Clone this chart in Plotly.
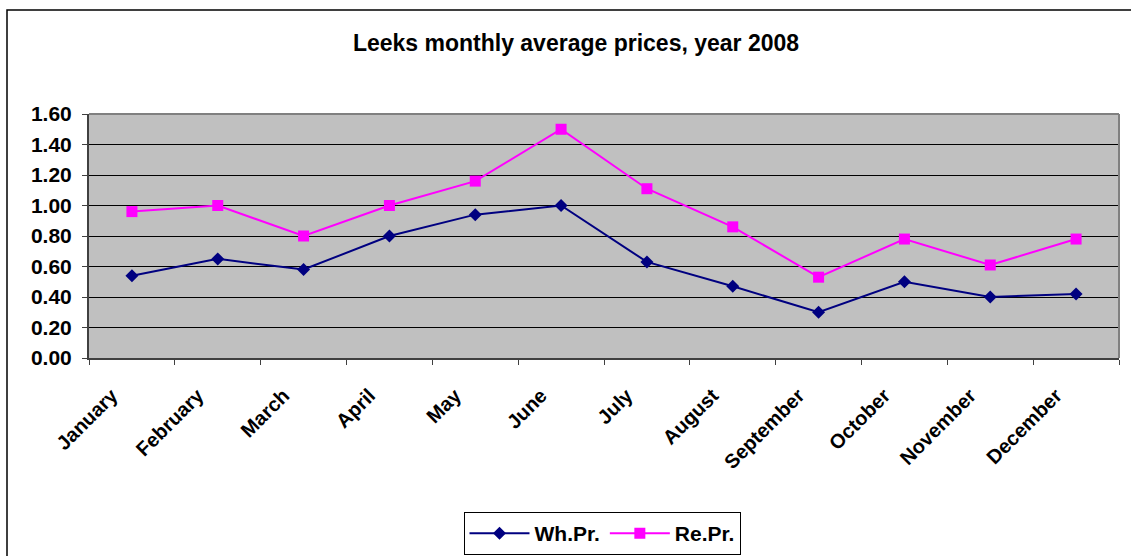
import plotly.graph_objects as go

months = ["January", "February", "March", "April", "May", "June", "July",
          "August", "September", "October", "November", "December"]
wh_pr = [0.54, 0.65, 0.58, 0.80, 0.94, 1.00, 0.63, 0.47, 0.30, 0.50, 0.40, 0.42]
re_pr = [0.96, 1.00, 0.80, 1.00, 1.16, 1.50, 1.11, 0.86, 0.53, 0.78, 0.61, 0.78]
y_ticks = [0.0, 0.2, 0.4, 0.6, 0.8, 1.0, 1.2, 1.4, 1.6]

W, H = 1131, 556
L, R, T, B = 89, 12, 114, 198
PW, PH = W - L - R, H - T - B

def px_x(p):
    return (p - L) / PW

def px_y(p):
    return (H - B - p) / PH

FONT = "Liberation Sans, Arial, sans-serif"

fig = go.Figure()
fig.add_trace(go.Scatter(
    x=months, y=wh_pr, name="Wh.Pr.", mode="lines+markers",
    line=dict(color="#000080", width=2),
    marker=dict(symbol="diamond", size=10, color="#000080"),
))
fig.add_trace(go.Scatter(
    x=months, y=re_pr, name="Re.Pr.", mode="lines+markers",
    line=dict(color="#FF00FF", width=2),
    marker=dict(symbol="square", size=11, color="#FF00FF"),
))

fig.update_layout(
    width=W, height=H,
    margin=dict(l=L, r=R, t=T, b=B, pad=0, autoexpand=False),
    paper_bgcolor="white",
    plot_bgcolor="#C0C0C0",
    font=dict(family=FONT, size=21, color="black", weight="bold"),
    title=dict(
        text="Leeks monthly average prices, year 2008",
        x=px_x(576), xref="paper", xanchor="center",
        y=1 - 43 / H, yref="container", yanchor="middle",
        font=dict(family=FONT, size=23, color="black", weight="bold"),
    ),
    showlegend=True,
    legend=dict(
        orientation="h",
        x=px_x(602), xanchor="center",
        y=px_y(512), yanchor="top",
        bordercolor="black", borderwidth=1,
        bgcolor="white",
        itemwidth=60,
        font=dict(family=FONT, size=21, color="black", weight="bold"),
    ),
    xaxis=dict(
        type="category",
        range=[-0.5, len(months) - 0.5],
        tickangle=-45,
        ticks="outside", ticklen=5, tickcolor="#404040",
        tickson="boundaries",
        showline=True, linecolor="#404040", linewidth=2,
        showgrid=False, zeroline=False,
        ticklabelshift=-20,
        ticklabelstandoff=16,
        tickfont=dict(family=FONT, size=20, color="black", weight="bold"),
    ),
    yaxis=dict(
        range=[0, 1.6],
        tickvals=y_ticks,
        tickformat=".2f",
        ticks="outside", ticklen=5, tickcolor="#404040",
        showline=True, linecolor="#404040", linewidth=2,
        showgrid=True, gridcolor="black", gridwidth=1,
        zeroline=False,
        ticklabelstandoff=6,
        tickfont=dict(family=FONT, size=21, color="black", weight="bold"),
    ),
    shapes=[
        # outer chart border
        dict(type="rect", xref="paper", yref="paper",
             x0=px_x(7), x1=px_x(1145), y0=px_y(575), y1=px_y(10),
             line=dict(color="black", width=1.5), fillcolor="rgba(0,0,0,0)",
             layer="below"),
        # plot area border (top / right in grey)
        dict(type="line", xref="paper", yref="paper", x0=0, x1=1, y0=1, y1=1,
             line=dict(color="#808080", width=2)),
        dict(type="line", xref="paper", yref="paper", x0=1, x1=1, y0=0, y1=1,
             line=dict(color="#808080", width=2)),
    ],
)

fig.write_html(
    "out.html",
    config={"displayModeBar": False},
    post_script="document.body.style.margin='0';document.body.style.overflow='hidden';",
)
